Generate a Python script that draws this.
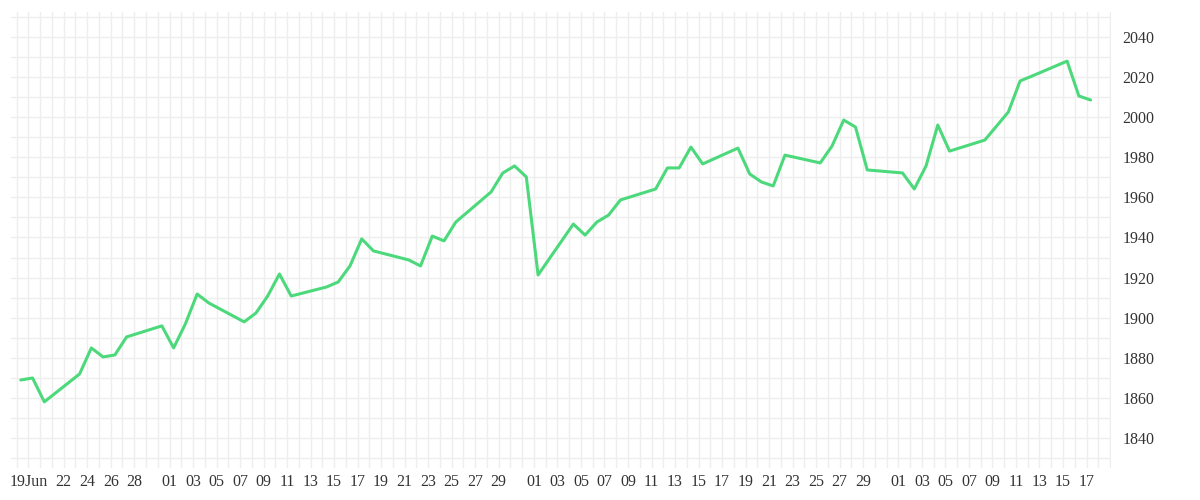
import numpy as np, pandas as pd, matplotlib
matplotlib.use("Agg")
import matplotlib.pyplot as plt, seaborn as sns
from matplotlib.ticker import MultipleLocator

# trading-day index counted from 18 Jun
day_idx = [0,1,2,5,6,7,8,9,12,13,14,15,16,19,20,21,22,23,26,27,28,29,30,33,34,35,36,37,
           40,41,42,43,44,47,48,49,50,51,54,55,56,57,58,61,62,63,64,65,68,69,70,71,72,
           75,76,77,78,79,82,83,84,85,86,89,90,91]
values = [1868.9,1869.9,1858.0,1871.9,1884.9,1880.4,1881.4,1890.4,1895.9,1884.9,1896.9,1911.8,
          1907.3,1897.9,1902.3,1910.8,1921.8,1910.8,1915.3,1917.8,1925.8,1939.3,1933.3,1928.8,
          1925.8,1940.7,1938.3,1947.7,1962.7,1972.2,1975.7,1970.2,1921.3,1946.7,1941.2,1947.7,
          1951.2,1958.7,1964.2,1974.7,1974.7,1985.1,1976.7,1984.6,1971.7,1967.7,1965.7,1981.1,
          1977.2,1985.6,1998.6,1995.1,1973.7,1972.2,1964.2,1975.7,1996.1,1983.1,1988.6,1995.6,
          2002.6,2018.1,2020.5,2028.0,2010.6,2008.6]
start = pd.Timestamp("2018-06-19")
tick_dates = ["2018-06-19","2018-06-22","2018-06-24","2018-06-26","2018-06-28"] + \
    [f"2018-07-{d:02d}" for d in range(1,30,2)] + [f"2018-08-{d:02d}" for d in range(1,30,2)] + \
    [f"2018-09-{d:02d}" for d in range(1,18,2)]
tick_labels = ["19Jun"] + [pd.Timestamp(t).strftime("%d") for t in tick_dates[1:]]

sns.set_theme(style="white")
plt.rcParams['font.family'] = ['Liberation Serif', 'DejaVu Serif']
fig = plt.figure(figsize=(12,5), dpi=100)
ax = fig.add_axes([0.009, 0.064, 0.917, 0.912])
x = np.array(day_idx) - 1 + 0.35
sns.lineplot(x=x, y=values, ax=ax, color="#4cd97b", linewidth=2.2)
tpos = [(pd.Timestamp(t) - start).days for t in tick_dates]
ax.set_xticks(tpos)
ax.set_xticklabels(tick_labels, fontsize=11.5, color="#333333")
ax.xaxis.set_minor_locator(MultipleLocator(1))
ax.set_yticks(range(1840, 2041, 20))
ax.yaxis.set_minor_locator(MultipleLocator(10))
ax.yaxis.tick_right()
ax.tick_params(axis='y', which='both', labelsize=11.5, colors="#333333", length=0, pad=8)
ax.tick_params(axis='x', which='both', length=0, pad=4)
ax.grid(True, which='both', color="#eeeeee", linewidth=1)
ax.set_xlim(-1.5, 92.1)
ax.set_ylim(1825, 2052.5)
for s in ax.spines.values():
    s.set_visible(False)
fig.savefig("out.png")
